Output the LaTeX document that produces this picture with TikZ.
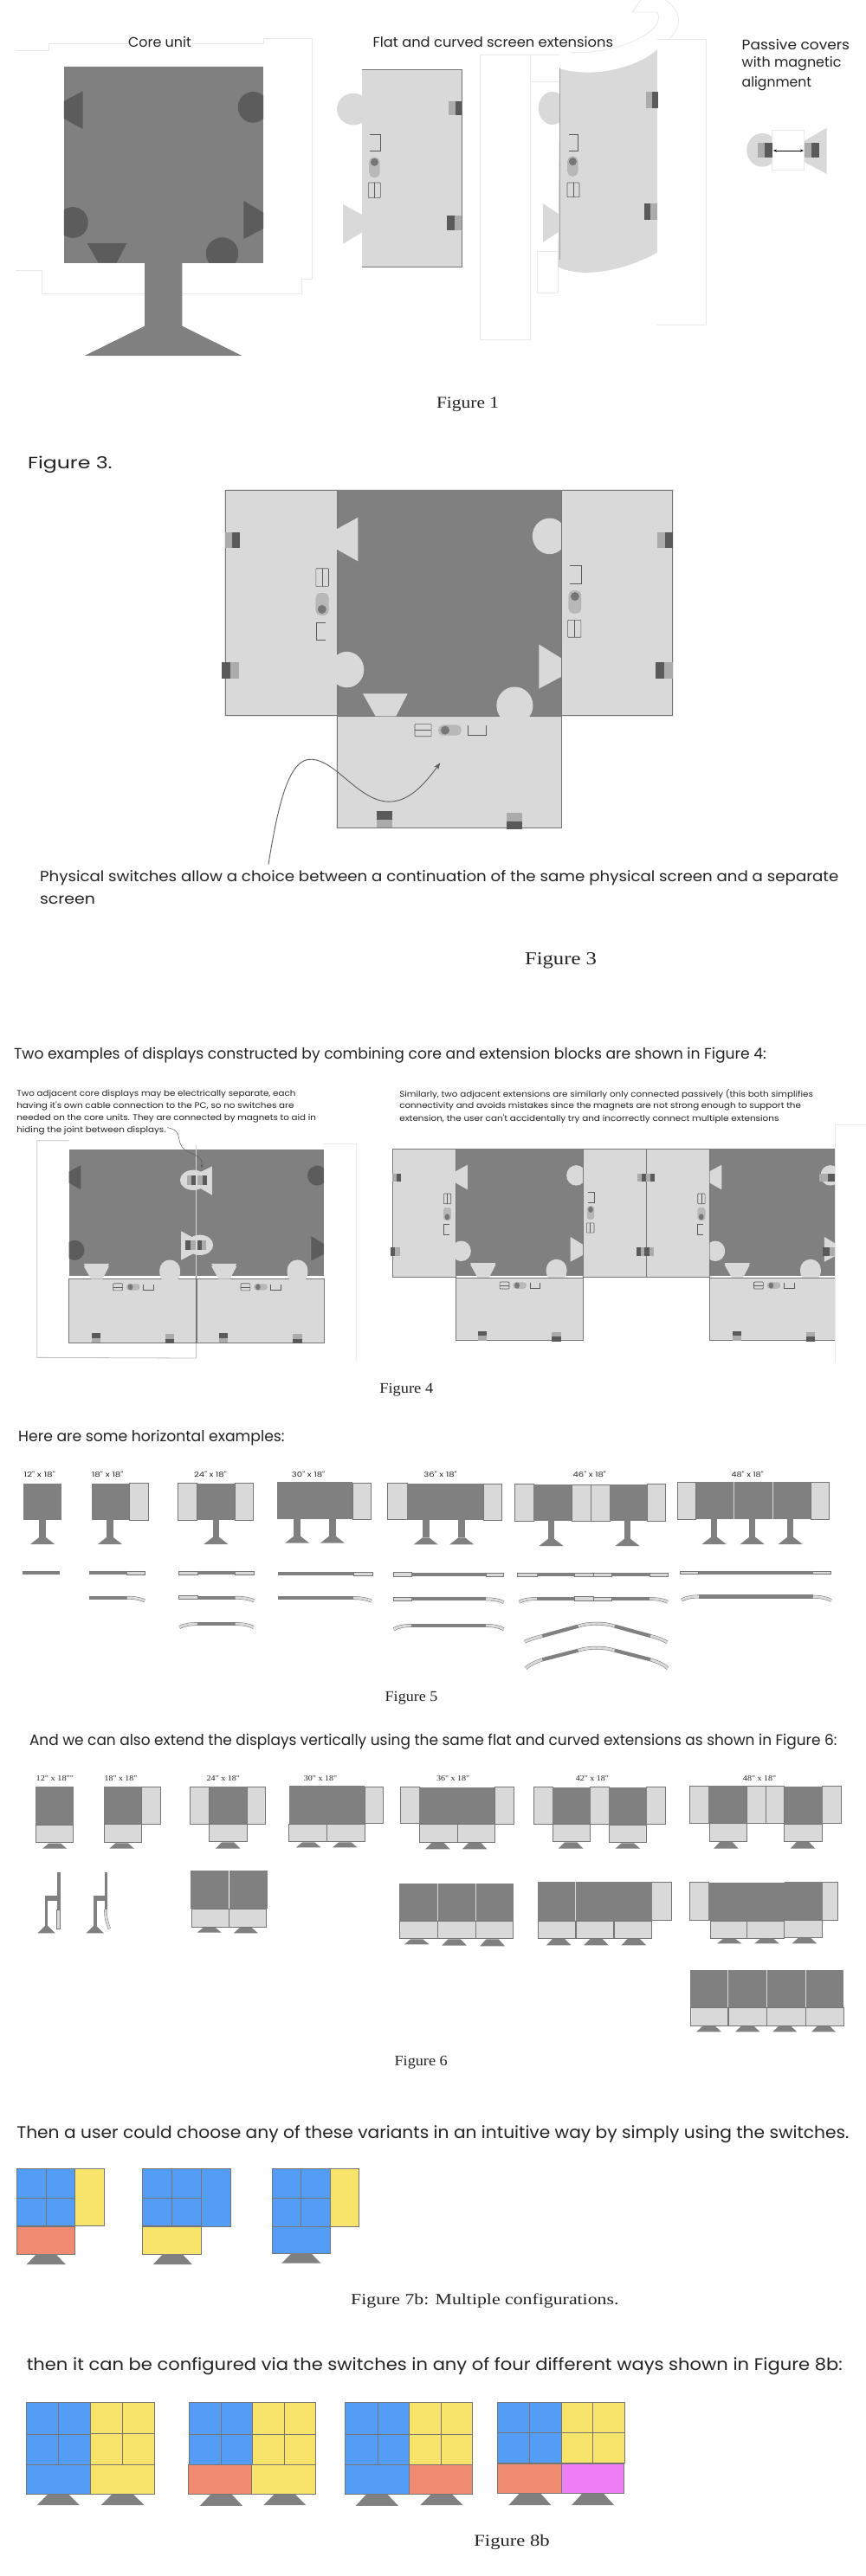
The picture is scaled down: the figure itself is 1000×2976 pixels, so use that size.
\documentclass[tikz,border=0pt]{standalone}
\usepackage{graphicx}
\usepackage{fontspec}
\setmainfont{Liberation Serif}
\newfontfamily\popf{Poppins}
\newfontfamily\serf{Liberation Serif}
\usetikzlibrary{arrows.meta}
\newlength\skunit
\setlength\skunit{0.63776pt}
\definecolor{corec}{HTML}{808080}
\definecolor{extc}{HTML}{D9D9D9}
\definecolor{darkc}{HTML}{5C5C5C}
\definecolor{magd}{HTML}{5A5A5A}
\definecolor{magl}{HTML}{ABABAB}
\definecolor{edgec}{HTML}{757575}
\definecolor{ghostc}{HTML}{E9E9E9}
\definecolor{bluec}{HTML}{539DF7}
\definecolor{yelc}{HTML}{F9E46B}
\definecolor{redc}{HTML}{EF8B70}
\definecolor{magc}{HTML}{EE7FF5}
\definecolor{txtc}{HTML}{222222}
\tikzset{
  sec/.style 2 args={shift={(0pt,-#1pt)},x=\skunit,y=-#2pt},
  ghost/.style={draw=ghostc,line width=.8pt},
  edgeline/.style={draw=edgec,line width=.7pt},
  seam/.style={draw=edgec,line width=.6pt},
  iconl/.style={draw=magd,line width=.6pt},
  cstrip/.style={draw=edgec,double=extc,double distance=2.8pt,line width=.5pt},
  dstrip/.style={draw=corec,line width=4.2pt},
  txt/.style={anchor=west,inner sep=0pt,text=txtc},
}
\newcommand\ft[3]{\resizebox{#1\skunit}{\height}{\fontsize{#2pt}{#2pt}\selectfont #3}}
\newcommand\lbl[7]{\node[txt] (#1) at (#2,#3) {\ft{#4}{#5}{#6\relax #7}};}
\newcommand\dcore[4]{\fill[corec] (#1,#2) rectangle (#3,#4);}
\newcommand\dext[4]{\filldraw[fill=extc,edgeline] (#1,#2) rectangle (#3,#4);}
\newcommand\dbase[4]{\fill[corec] ({(#1+#2)/2-(#2-#1)*.25},#3) -- ({(#1+#2)/2+(#2-#1)*.25},#3) -- (#2,#4) -- (#1,#4) -- cycle;}
\newcommand\dstand[4]{% cx ytop yneck ybot
  \fill[corec] ({#1-6},#2) rectangle ({#1+6},#3);
  \fill[corec] ({#1-6},#3) -- ({#1+6},#3) -- ({#1+22},#4) -- ({#1-22},#4) -- cycle;}
\newcommand\mgh[6]{\fill[#5] (#1,#3) rectangle ({(#1+#2)/2},#4); \fill[#6] ({(#1+#2)/2},#3) rectangle (#2,#4);}
\newcommand\mgv[6]{\fill[#5] (#1,#3) rectangle (#2,{(#3+#4)/2}); \fill[#6] (#1,{(#3+#4)/2}) rectangle (#2,#4);}
\newcommand\splitv[4]{\draw[iconl,rounded corners=.8pt] (#1,#2) rectangle (#3,#4); \draw[iconl] ({(#1+#3)/2},#2) -- ({(#1+#3)/2},#4);}
\newcommand\splith[4]{\draw[iconl,rounded corners=.8pt] (#1,#2) rectangle (#3,#4); \draw[iconl] (#1,{(#2+#4)/2}) -- (#3,{(#2+#4)/2});}
\newcommand\brkL[4]{\draw[iconl] (#1,#2) -- (#3,#2) -- (#3,#4) -- (#1,#4);}
\newcommand\brkR[4]{\draw[iconl] (#3,#2) -- (#1,#2) -- (#1,#4) -- (#3,#4);}
\newcommand\brkT[4]{\draw[iconl] (#1,#2) -- (#1,#4) -- (#3,#4) -- (#3,#2);}
\newcommand\capr{5pt}
\newcommand\dotr{4.5pt}
\newcommand\capsule[6]{\filldraw[fill=extc!85!black,draw=edgec!60,line width=.4pt,rounded corners=\capr] (#1,#2) rectangle (#3,#4); \fill[corec!92!black] (#5,#6) circle [radius=\dotr];}
% Fig 3 frame: core is (610,158)-(1016,790)
\newcommand\place[5]{\begin{scope}[shift={(#1,#2)},xscale=#3,yscale=#4,shift={(-610,-158)}]#5\end{scope}}
\newcommand\leftfeat[1]{\begin{scope}\clip (610,158) rectangle (1016,790);
  \fill[#1] (610,268) -- (648,236) -- (648,358) -- (610,325) -- cycle;
  \fill[#1] (628,660) ellipse [x radius=31,y radius=50];\end{scope}}
\newcommand\rightfeat[1]{\begin{scope}\clip (610,158) rectangle (1016,790);
  \fill[#1] (995,288) ellipse [x radius=31,y radius=50];
  \fill[#1] (1016,628) -- (976,590) -- (976,713) -- (1016,680) -- cycle;\end{scope}}
\newcommand\botfeat[1]{\begin{scope}\clip (610,158) rectangle (1016,790);
  \fill[#1] (680,790) -- (657,727) -- (738,727) -- (717,790) -- cycle;
  \fill[#1] (932,760) ellipse [x radius=33,y radius=52];\end{scope}}
\newcommand\leftext{\filldraw[fill=extc,edgeline] (408,160) rectangle (610,788);
  \leftfeat{extc}
  \mgh{408}{434}{278}{320}{magl}{magd}\mgh{402}{432}{640}{685}{magd}{magl}
  \splitv{572}{378}{595}{428}\capsule{572}{447}{595}{508}{583}{492}\brkR{572}{528}{590}{578}}
\newcommand\rightext{\filldraw[fill=extc,edgeline] (1016,160) rectangle (1218,788);
  \rightfeat{extc}
  \mgh{1190}{1218}{278}{320}{magl}{magd}\mgh{1187}{1218}{640}{685}{magd}{magl}
  \brkL{1032}{370}{1052}{420}\capsule{1030}{440}{1052}{503}{1041}{456}\splitv{1028}{522}{1052}{570}}
\newcommand\botext{\filldraw[fill=extc,edgeline] (610,790) rectangle (1016,1100);
  \botfeat{extc}
  \mgv{682}{710}{1055}{1100}{magd}{magl}\mgv{917}{946}{1060}{1104}{magl}{magd}
  \splith{751}{812}{781}{846}\capsule{794}{815}{835}{843}{806}{829}\brkT{847}{815}{880}{843}}
\newcommand\corebox{\fill[corec] (610,158) rectangle (1016,790);}
% coloured blocks
\newcommand\cblock[5]{\filldraw[fill=#5,edgeline] (#1,#2) rectangle (#3,#4);}
\newcommand\hseam[3]{\draw[seam] (#1,#3) -- (#2,#3);}
\newcommand\vseam[3]{\draw[seam] (#1,#2) -- (#1,#3);}
\begin{document}
\begin{tikzpicture}[x=1pt,y=-1pt]
\useasboundingbox (0,0) rectangle (1000,2976);
\fill[white] (0,0) rectangle (1000,2976);

%% ===== Figure 1
\begin{scope}[sec={0}{.33333}]
\draw[ghost] (28,174) -- (88,174) -- (88,150) -- (477,150) -- (477,132) -- (565,132) -- (565,968) -- (547,968) -- (547,1017) -- (76,1017) -- (76,938) -- (28,938);
\draw[ghost] (870,190) rectangle (960,1178);
\draw[ghost] (1190,137) -- (1278,137) -- (1278,1125) -- (1190,1125);
\draw[ghost] (960,190) -- (1014,190) (962,282) -- (1014,282);
\draw[ghost] (972,872) rectangle (1010,1014);
\draw[ghost] (1212,135) .. controls (1235,90) and (1235,40) .. (1205,0);
\draw[ghost] (1030,180) .. controls (1110,195) and (1210,110) .. (1190,42) -- (1145,42);
\draw[ghost] (1145,42) -- (1160,0);
% core unit
\place{116}{232}{.889}{1.074}{\corebox\leftfeat{darkc}\rightfeat{darkc}\botfeat{darkc}}
\fill[corec] (262,905) -- (330,905) -- (330,1130) -- (438,1233) -- (153,1233) -- (262,1130) -- cycle;
% flat extension
\fill[extc] (640,378) ellipse [x radius=30,y radius=55];
\fill[extc] (656,745) -- (621,708) -- (621,845) -- (656,805) -- cycle;
\filldraw[fill=extc,draw=extc] (656,241) rectangle (836,925);
\draw[edgeline] (656,241) -- (836,241) -- (836,925) -- (656,925);
\mgh{812}{836}{350}{400}{magl}{magd}\mgh{809}{836}{746}{797}{magd}{magl}
\brkL{670}{467}{689}{522}\capsule{669}{546}{687}{614}{678}{562}\splitv{667}{633}{689}{686}
% curved extension
\fill[extc] (1000,375) ellipse [x radius=25,y radius=57];
\fill[extc] (1014,745) -- (983,705) -- (983,840) -- (1014,800) -- cycle;
\fill[extc] (1014,238) .. controls (1070,270) and (1150,240) .. (1190,172) -- (1190,875) .. controls (1140,930) and (1060,970) .. (1010,925) -- cycle;
\draw[edgec!70,line width=.5pt] (1014,238) -- (1014,900);
\mgh{1170}{1192}{318}{376}{magl}{magd}\mgh{1166}{1190}{705}{762}{magd}{magl}
\brkL{1030}{467}{1046}{522}\capsule{1028}{543}{1046}{610}{1037}{560}\splitv{1027}{633}{1049}{683}
% passive cover
\fill[extc] (1380,520) ellipse [x radius=28,y radius=58];
\fill[extc] (1455,490) -- (1497,443) -- (1497,603) -- (1455,560) -- cycle;
\filldraw[fill=white,draw=ghostc,line width=.8pt] (1398,450) rectangle (1455,590);
\mgh{1372}{1398}{495}{547}{magl}{magd}\mgh{1456}{1483}{495}{547}{magl}{magd}
\coordinate (pa) at (1400,522); \coordinate (pb) at (1455,522);
\draw[{Stealth[length=4pt]}-{Stealth[length=4pt]},line width=.6pt,black] (pa) -- (pb);
\fill[white] (232,125) rectangle (346,165);
\fill[white] (675,125) rectangle (1110,165);
\lbl{t1a}{232}{145}{114}{16}{\popf}{Core unit}
\lbl{t1b}{675}{145}{435}{16}{\popf}{Flat and curved screen extensions}
\lbl{t1c}{1343}{155}{195}{16}{\popf}{Passive covers}
\lbl{t1d}{1343}{222}{180}{16}{\popf}{with magnetic}
\lbl{t1e}{1343}{289}{126}{16}{\popf}{alignment}
\lbl{c1}{790}{1402}{113}{19}{\serf}{Figure 1}
\end{scope}

%% ===== Figure 3
\renewcommand\capr{5.5pt}\renewcommand\dotr{5pt}
\begin{scope}[sec={500}{.41454}]
\lbl{t3a}{50}{90}{153}{19}{\popf}{Figure 3.}
\draw[extc!60!white,line width=2.5pt] (408,160) rectangle (1218,788);
\draw[extc!60!white,line width=2.5pt] (610,788) rectangle (1016,1100);
\corebox\leftext\rightext\botext
\coordinate (as) at (486,1203); \coordinate (ae) at (797,920);
\draw[-{Stealth[length=8pt,width=6pt]},line width=.9pt,color=darkc] (as) .. controls (505,1020) and (525,905) .. (565,910) .. controls (610,915) and (650,1028) .. (705,1028) .. controls (745,1028) and (775,965) .. (ae);
\lbl{t3b}{72}{1240}{1446}{17}{\popf}{Physical switches allow a choice between a continuation of the same physical screen and a separate}
\lbl{t3c}{72}{1302}{100}{17}{\popf}{screen}
\lbl{c3}{950}{1472}{130}{21}{\serf}{Figure 3}
\end{scope}

%% ===== Figure 4
\renewcommand\capr{3pt}\renewcommand\dotr{5pt}
\begin{scope}[sec={1190}{.33333}]
\lbl{t4a}{25}{87}{1362}{17.5}{\popf}{Two examples of displays constructed by combining core and extension blocks are shown in Figure 4:}
\lbl{t4b}{30}{221}{505}{9.5}{\popf}{Two adjacent core displays may be electrically separate, each}
\lbl{t4c}{30}{263}{502}{9.5}{\popf}{having it's own cable connection to the PC, so no switches are}
\lbl{t4d}{30}{306}{542}{9.5}{\popf}{needed on the core units.  They are connected by magnets to aid in}
\lbl{t4e}{30}{349}{270}{9.5}{\popf}{hiding the joint between displays.}
\lbl{t4f}{723}{222}{749}{9.5}{\popf}{Similarly, two adjacent extensions are similarly only connected passively (this both simplifies}
\lbl{t4g}{723}{265}{727}{9.5}{\popf}{connectivity and avoids mistakes since the magnets are not strong enough to support the}
\lbl{t4h}{723}{308}{687}{9.5}{\popf}{extension, the user can't accidentally try and incorrectly connect multiple extensions}
% left example
\draw[ghost,draw=black!25] (125,383) -- (67,383) -- (67,1135) -- (355,1137) -- (355,1075);
\draw[ghost] (587,393) -- (645,393) -- (645,1145);
\place{125}{414}{.567}{.695}{\corebox\leftfeat{darkc}\botfeat{extc}}
\place{356}{414}{.567}{.695}{\corebox\rightfeat{darkc}\botfeat{extc}}
\place{125}{414}{.567}{.71}{\botext}
\place{356}{414}{.567}{.71}{\botext}
% passive covers on the joint
\fill[extc] (350,520) ellipse [x radius=24,y radius=35];
\fill[extc] (355,500) -- (384,472) -- (384,572) -- (355,540) -- cycle;
\mgh{338}{356}{503}{537}{magl}{magd}\mgh{358}{375}{503}{537}{magl}{magd}
\fill[extc] (362,745) ellipse [x radius=24,y radius=35];
\fill[extc] (355,725) -- (328,697) -- (328,797) -- (355,770) -- cycle;
\mgh{336}{355}{730}{762}{magd}{magl}\mgh{357}{373}{730}{762}{magd}{magl}
\draw[white!85!black,line width=.8pt] (355,400) -- (355,853);
\draw[edgec,line width=.8pt] (355,853) -- (355,1075);
\coordinate (b1) at (303,338); \coordinate (b2) at (365,478);
\draw[-{Stealth[length=4pt,width=3pt]},line width=.5pt,color=darkc] (b1) .. controls (335,350) and (315,385) .. (335,415) .. controls (350,435) and (368,435) .. (b2);
% right example
\begin{scope}
\clip (700,300) rectangle (1512,1100);
\place{825}{412}{.567}{.695}{\corebox\botfeat{extc}}
\place{1285}{412}{.567}{.695}{\corebox\botfeat{extc}}
\place{825}{412}{.567}{.705}{\leftext\rightext\botext}
\place{1285}{412}{.567}{.705}{\leftext\botext\rightfeat{extc}\mgh{960}{1016}{278}{320}{magl}{magd}\mgh{970}{1016}{640}{685}{magd}{magl}}
\end{scope}
\draw[ghost] (1568,328) -- (1512,328) -- (1512,1150);
\lbl{c4}{687}{1247}{97}{17}{\serf}{Figure 4}
\end{scope}

%% ===== Figure 5
\begin{scope}[sec={1640}{.33333}]
\lbl{t5a}{33}{62}{482}{17.5}{\popf}{Here are some horizontal examples:}
\lbl{l51}{43}{190}{57}{8}{\popf}{12" x 18"}
\lbl{l52}{166}{190}{57}{8}{\popf}{18" x 18"}
\lbl{l53}{351}{190}{59}{8}{\popf}{24" x 18"}
\lbl{l54}{528}{190}{60}{8}{\popf}{30" x 18"}
\lbl{l55}{767}{190}{60}{8}{\popf}{36" x 18"}
\lbl{l56}{1037}{190}{60}{8}{\popf}{46" x 18"}
\lbl{l57}{1324}{190}{58}{8}{\popf}{48" x 18"}
% fronts
\dcore{43}{221}{112}{349}\dstand{77}{349}{408}{432}
\dext{234}{221}{268}{349}\dcore{166}{221}{234}{349}\dstand{199}{349}{408}{432}
\dext{322}{221}{357}{349}\dext{425}{221}{458}{349}\dcore{357}{221}{425}{349}\dstand{391}{349}{408}{432}
\dext{638}{221}{672}{345}\dcore{502}{217}{638}{345}\dstand{538}{345}{404}{428}\dstand{602}{345}{404}{428}
\dext{702}{221}{737}{345}\dext{875}{224}{909}{349}\dcore{737}{221}{875}{349}\dstand{771}{349}{409}{433}\dstand{836}{349}{409}{433}
\dext{932}{224}{966}{351}\dext{1035}{227}{1070}{351}\dext{1070}{227}{1104}{351}\dext{1172}{224}{1205}{351}
\dcore{966}{224}{1035}{351}\dcore{1104}{224}{1172}{351}\dstand{998}{351}{414}{438}\dstand{1136}{351}{414}{438}
\dext{1227}{217}{1260}{345}\dext{1468}{218}{1501}{345}\dcore{1260}{217}{1468}{345}
\draw[white!70!corec,line width=.3pt] (1329,217) -- (1329,345) (1399,217) -- (1399,345);
\dstand{1293}{345}{408}{432}\dstand{1362}{345}{408}{432}\dstand{1431}{345}{408}{432}
% top views row 1
\dcore{40}{525}{108}{537}
\dext{230}{525}{263}{537}\dcore{162}{525}{230}{537}
\dext{324}{525}{358}{537}\dext{426}{525}{460}{537}\dcore{358}{526}{426}{537}
\dext{640}{528}{675}{540}\dcore{503}{527}{640}{540}
\dext{712}{530}{745}{543}\dext{880}{531}{912}{544}\dcore{745}{532}{880}{544}
\dext{937}{531}{972}{543}\dext{1040}{531}{1074}{543}\dext{1074}{531}{1108}{543}\dext{1176}{531}{1209}{543}\dcore{972}{531}{1040}{543}\dcore{1108}{531}{1176}{543}
\dext{1232}{525}{1265}{536}\dext{1472}{525}{1505}{536}\dcore{1265}{524}{1472}{537}
% row 2
\dcore{162}{611}{230}{625}\draw[cstrip] (230,617) .. controls (245,617) and (255,622) .. (262,628);
\dext{324}{611}{358}{623}\dcore{358}{611}{426}{623}\draw[cstrip] (426,617) .. controls (440,617) and (452,621) .. (460,628);
\dcore{503}{612}{640}{625}\draw[cstrip] (640,618) .. controls (652,618) and (665,622) .. (673,629);
\dext{712}{615}{745}{628}\dcore{745}{616}{880}{628}\draw[cstrip] (880,622) .. controls (892,622) and (905,626) .. (912,633);
\draw[cstrip] (972,621) .. controls (958,621) and (946,625) .. (940,632);
\dcore{972}{615}{1040}{628}\dext{1040}{613}{1074}{628}\dext{1074}{615}{1108}{628}\dcore{1108}{615}{1176}{628}
\draw[cstrip] (1176,621) .. controls (1190,621) and (1202,625) .. (1209,632);
\draw[cstrip] (1266,613) .. controls (1252,613) and (1240,618) .. (1234,626);
\dcore{1266}{607}{1472}{621}\draw[cstrip] (1472,614) .. controls (1486,614) and (1498,619) .. (1505,627);
% row 3
\draw[cstrip] (358,708) .. controls (344,708) and (332,712) .. (325,720);
\dcore{358}{703}{426}{713}\draw[cstrip] (426,708) .. controls (440,708) and (452,712) .. (459,720);
\draw[cstrip] (745,714) .. controls (731,714) and (719,718) .. (713,727);
\dcore{745}{708}{880}{720}\draw[cstrip] (880,714) .. controls (894,714) and (906,718) .. (912,727);
% V shapes
\draw[cstrip] (950,770) .. controls (958,762) and (970,756) .. (982,750);
\draw[dstrip] (982,750) -- (1047,716);
\draw[cstrip] (1047,716) .. controls (1058,709) and (1070,707) .. (1080,707);
\draw[cstrip] (1080,707) .. controls (1090,707) and (1102,709) .. (1113,716);
\draw[dstrip] (1113,716) -- (1178,750);
\draw[cstrip] (1178,750) .. controls (1190,756) and (1200,762) .. (1208,772);
\draw[cstrip] (952,862) .. controls (960,848) and (970,840) .. (982,832);
\draw[dstrip] (982,832) -- (1047,800);
\draw[cstrip] (1047,800) .. controls (1058,793) and (1070,791) .. (1080,791);
\draw[cstrip] (1080,791) .. controls (1090,791) and (1102,793) .. (1113,800);
\draw[dstrip] (1113,800) -- (1178,832);
\draw[cstrip] (1178,832) .. controls (1190,840) and (1202,848) .. (1209,862);
\lbl{c5}{697}{965}{95}{17}{\serf}{Figure 5}
\end{scope}

%% ===== Figure 6
\begin{scope}[sec={1990}{.33333}]
\lbl{t6a}{53}{65}{1462}{17.5}{\popf}{And we can also extend the displays vertically using the same flat and curved extensions as shown in Figure 6:}
\lbl{l61}{65}{195}{68}{9}{\serf}{12" x 18""}
\lbl{l62}{189}{195}{59}{9}{\serf}{18" x 18"}
\lbl{l63}{374}{195}{60}{9}{\serf}{24" x 18"}
\lbl{l64}{550}{195}{60}{9}{\serf}{30" x 18"}
\lbl{l65}{790}{195}{60}{9}{\serf}{36" x 18"}
\lbl{l66}{1042}{195}{60}{9}{\serf}{42" x 18"}
\lbl{l67}{1345}{195}{60}{9}{\serf}{48" x 18"}
% row 1
\dcore{65}{222}{133}{355}\dext{65}{355}{133}{416}\dbase{77}{121}{419}{437}
\dext{256}{223}{291}{352}\dcore{188}{222}{256}{352}\dext{188}{352}{256}{414}\dbase{198}{243}{418}{437}
\dext{344}{222}{379}{352}\dext{447}{222}{481}{352}\dcore{379}{222}{447}{352}\dext{378}{352}{447}{412}\dbase{390}{435}{415}{437}
\dext{660}{222}{694}{350}\dcore{523}{218}{660}{352}\dext{523}{352}{592}{412}\dext{592}{352}{660}{412}\dbase{536}{581}{415}{433}\dbase{602}{647}{415}{433}
\dext{725}{224}{759}{350}\dext{896}{224}{930}{353}\dcore{759}{224}{896}{353}\dext{760}{353}{828}{414}\dext{828}{353}{896}{414}\dbase{770}{815}{417}{439}\dbase{837}{882}{417}{439}
\dext{967}{224}{1001}{352}\dext{1069}{224}{1103}{352}\dext{1171}{224}{1205}{352}\dcore{1001}{224}{1069}{352}\dcore{1103}{224}{1171}{355}\dext{1001}{352}{1069}{412}\dext{1103}{355}{1171}{416}\dbase{1011}{1056}{415}{437}\dbase{1114}{1159}{418}{437}
\dext{1249}{220}{1283}{350}\dext{1352}{220}{1386}{349}\dext{1386}{220}{1420}{349}\dext{1489}{220}{1523}{349}\dcore{1283}{220}{1352}{349}\dcore{1420}{222}{1489}{352}\dext{1284}{349}{1352}{411}\dext{1420}{352}{1489}{412}\dbase{1292}{1337}{414}{437}\dbase{1431}{1476}{414}{437}
% side views
\fill[corec] (103,518) rectangle (109,648);
\dext{103}{648}{109}{715}
\fill[corec] (81,600) rectangle (105,617);
\fill[corec] (81,600) rectangle (87,705);
\fill[corec] (84,700) -- (100,730) -- (68,730) -- cycle;
\fill[corec] (189,518) rectangle (195,648);
\draw[draw=edgec,double=extc,double distance=2.6pt,line width=.4pt] (191,648) .. controls (191,675) and (194,695) .. (198,715);
\fill[corec] (169,600) rectangle (191,617);
\fill[corec] (169,600) rectangle (175,705);
\fill[corec] (172,700) -- (188,730) -- (156,730) -- cycle;
% row 2
\dcore{345}{514}{414}{646}\dcore{416}{514}{484}{646}\dext{347}{646}{415}{708}\dext{415}{646}{482}{708}\dbase{357}{401}{711}{728}\dbase{423}{467}{711}{730}
\dcore{723}{557}{930}{689}\draw[white!70!corec,line width=.4pt] (792,557) -- (792,689) (861,557) -- (861,689);
\dext{724}{689}{792}{749}\dext{793}{689}{861}{749}\dext{861}{689}{929}{749}\dbase{732}{777}{751}{769}\dbase{800}{845}{751}{773}\dbase{869}{914}{751}{775}
\dext{1180}{552}{1215}{685}\dcore{973}{552}{1180}{687}\draw[white!70!corec,line width=.4pt] (1042,552) -- (1042,687);
\dext{974}{687}{1042}{747}\dext{1043}{687}{1111}{747}\dext{1112}{687}{1180}{747}\dbase{989}{1034}{750}{772}\dbase{1057}{1102}{750}{772}\dbase{1125}{1170}{750}{772}
\dext{1249}{552}{1283}{685}\dext{1489}{552}{1517}{685}\dcore{1283}{555}{1421}{687}\dcore{1421}{552}{1489}{684}
\dext{1287}{687}{1352}{749}\dext{1352}{687}{1419}{749}\dext{1420}{684}{1489}{746}\dbase{1298}{1343}{750}{766}\dbase{1366}{1411}{748}{766}\dbase{1434}{1479}{746}{766}
% row 3
\dcore{1249}{857}{1527}{988}\draw[white!70!corec,line width=.4pt] (1318,857) -- (1318,988) (1388,857) -- (1388,988) (1458,857) -- (1458,988);
\dext{1250}{988}{1318}{1050}\dext{1319}{988}{1388}{1050}\dext{1388}{988}{1458}{1050}\dext{1459}{988}{1527}{1050}
\dbase{1261}{1306}{1052}{1072}\dbase{1331}{1376}{1052}{1072}\dbase{1399}{1443}{1052}{1072}\dbase{1469}{1513}{1052}{1072}
\lbl{c6}{714}{1178}{96}{17}{\serf}{Figure 6}
\end{scope}

%% ===== Figures 7b and 8b
\begin{scope}[sec={2410}{.36097}]
\lbl{t7a}{30}{153}{1507}{19.5}{\popf}{Then a user could choose any of these variants in an intuitive way by simply using the switches.}
% 7b
\cblock{30}{265}{136}{447}{bluec}\vseam{83}{265}{447}\hseam{30}{136}{358}\cblock{136}{265}{189}{448}{yelc}\cblock{30}{449}{136}{538}{redc}\dbase{48}{119}{538}{571}
\cblock{258}{265}{364}{447}{bluec}\vseam{311}{265}{447}\hseam{258}{364}{358}\cblock{364}{265}{417}{449}{bluec}\cblock{258}{449}{364}{538}{yelc}\dbase{277}{348}{538}{571}
\cblock{493}{265}{598}{449}{bluec}\vseam{545}{265}{449}\hseam{493}{598}{358}\cblock{598}{265}{650}{449}{yelc}\cblock{493}{449}{598}{535}{bluec}\dbase{510}{581}{535}{567}
\lbl{c7}{635}{687}{485}{18}{\serf}{Figure 7b: Multiple configurations.}
\lbl{t8a}{48}{897}{1477}{19.5}{\popf}{then it can be configured via the switches in any of four different ways shown in Figure 8b:}
% 8b
\cblock{48}{1013}{164}{1211}{bluec}\vseam{106}{1013}{1211}\hseam{48}{164}{1113}\cblock{164}{1013}{280}{1211}{yelc}\vseam{222}{1013}{1211}\hseam{164}{280}{1111}
\cblock{48}{1212}{164}{1307}{bluec}\cblock{164}{1212}{280}{1307}{yelc}\dbase{67}{144}{1307}{1341}\dbase{183}{261}{1307}{1341}
\cblock{342}{1013}{457}{1211}{bluec}\vseam{400}{1013}{1211}\hseam{342}{457}{1113}\cblock{457}{1013}{571}{1211}{yelc}\vseam{514}{1013}{1211}\hseam{457}{571}{1113}
\cblock{341}{1212}{456}{1307}{redc}\cblock{456}{1212}{571}{1307}{yelc}\dbase{362}{439}{1307}{1343}\dbase{477}{554}{1307}{1341}
\cblock{625}{1013}{741}{1211}{bluec}\vseam{684}{1013}{1211}\hseam{625}{741}{1114}\cblock{741}{1013}{855}{1211}{yelc}\vseam{798}{1013}{1211}\hseam{741}{855}{1114}
\cblock{625}{1212}{740}{1307}{bluec}\cblock{740}{1212}{855}{1307}{redc}\dbase{644}{721}{1307}{1343}\dbase{761}{838}{1307}{1341}
\cblock{901}{1013}{1016}{1207}{bluec}\vseam{958}{1013}{1207}\hseam{901}{1016}{1110}\cblock{1016}{1013}{1131}{1207}{yelc}\vseam{1073}{1013}{1207}\hseam{1016}{1131}{1110}
\cblock{900}{1208}{1016}{1304}{redc}\cblock{1016}{1208}{1130}{1304}{magc}\dbase{921}{998}{1304}{1341}\dbase{1035}{1112}{1304}{1341}
\lbl{c8}{858}{1460}{137}{19}{\serf}{Figure 8b}
\end{scope}
\end{tikzpicture}
\end{document}
